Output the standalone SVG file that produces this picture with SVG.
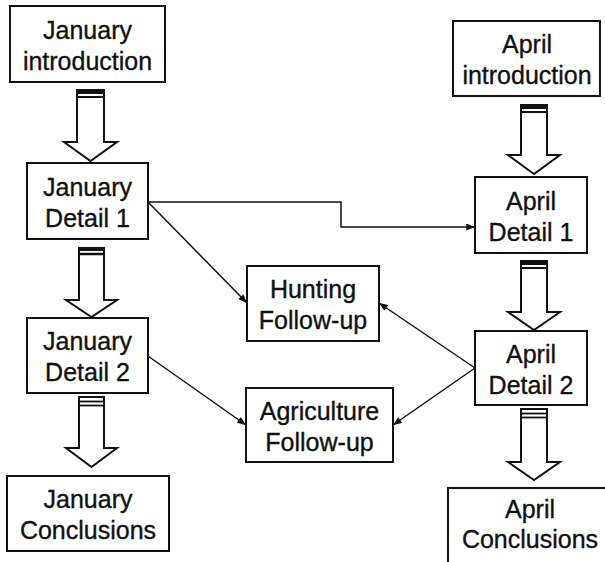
<svg xmlns="http://www.w3.org/2000/svg" width="605" height="562" viewBox="0 0 605 562">
<style>
.box{fill:#fff;stroke:#111;stroke-width:2}
.lbl{font-family:"Liberation Sans",Arial,sans-serif;font-size:25px;fill:#111;stroke:#111;stroke-width:0.35;text-anchor:middle}
.conn{fill:none;stroke:#111;stroke-width:1.5}
.barrow{fill:#fff;stroke:#111;stroke-width:2;stroke-linejoin:miter}
.cap{stroke:#111;fill:none}
</style>
<defs>
<marker id="ah" viewBox="0 0 10 8" refX="10" refY="4" markerWidth="10" markerHeight="7" markerUnits="userSpaceOnUse" orient="auto">
<path d="M0,0 L10,4 L0,8 Z" fill="#111"/>
</marker>
</defs>
<rect width="605" height="562" fill="#fff"/>

<g id="block-arrows">
<g id="ba1">
<polygon class="barrow" points="77,90 104,90 104,142 117,142 90.5,161 64,142 77,142"/>
<line class="cap" x1="77" y1="92" x2="104" y2="92" stroke-width="4"/>
<line class="cap" x1="77" y1="97" x2="104" y2="97" stroke-width="2"/>
</g>
<g id="ba2">
<polygon class="barrow" points="79,248 104,248 104,300 117,300 91.5,317 66,300 79,300"/>
<line class="cap" x1="79" y1="249.5" x2="104" y2="249.5" stroke-width="3"/>
<line class="cap" x1="79" y1="254" x2="104" y2="254" stroke-width="2.5"/>
</g>
<g id="ba3">
<polygon class="barrow" points="79,397 104,397 104,448 117,448 91.5,467 66,448 79,448"/>
<line class="cap" x1="79" y1="401.5" x2="104" y2="401.5" stroke-width="1.8"/>
<line class="cap" x1="79" y1="405.5" x2="104" y2="405.5" stroke-width="1.8"/>
</g>
<g id="ba4">
<polygon class="barrow" points="521,105 547,105 547,155 560,155 534,174 508,155 521,155"/>
<line class="cap" x1="521" y1="107" x2="547" y2="107" stroke-width="4"/>
<line class="cap" x1="521" y1="112" x2="547" y2="112" stroke-width="2"/>
</g>
<g id="ba5">
<polygon class="barrow" points="521,261 547,261 547,312 560,312 534,330 508,312 521,312"/>
<line class="cap" x1="521" y1="263" x2="547" y2="263" stroke-width="4"/>
<line class="cap" x1="521" y1="268" x2="547" y2="268" stroke-width="2"/>
</g>
<g id="ba6">
<polygon class="barrow" points="521,409 547,409 547,462 560,462 534,480 508,462 521,462"/>
<line class="cap" x1="521" y1="413.5" x2="547" y2="413.5" stroke-width="1.8"/>
<line class="cap" x1="521" y1="417.5" x2="547" y2="417.5" stroke-width="1.8"/>
</g>
</g>

<g id="connectors">
<path class="conn" d="M148,202 H341 V227 H475" marker-end="url(#ah)"/>
<path class="conn" d="M148,202 L247,303" marker-end="url(#ah)"/>
<path class="conn" d="M148,356 L246,425" marker-end="url(#ah)"/>
<path class="conn" d="M475,368 L379,303" marker-end="url(#ah)"/>
<path class="conn" d="M475,368 L393,425" marker-end="url(#ah)"/>
</g>

<g id="jan-intro">
<rect class="box" x="10" y="6" width="155" height="76"/>
<text class="lbl" x="87.5" y="39">January</text>
<text class="lbl" x="87.5" y="70">introduction</text>
</g>
<g id="jan-detail1">
<rect class="box" x="27" y="163" width="121" height="76"/>
<text class="lbl" x="87.5" y="196">January</text>
<text class="lbl" x="87.5" y="227">Detail 1</text>
</g>
<g id="jan-detail2">
<rect class="box" x="27" y="318" width="121" height="75"/>
<text class="lbl" x="87.5" y="350">January</text>
<text class="lbl" x="87.5" y="381">Detail 2</text>
</g>
<g id="jan-concl">
<rect class="box" x="7" y="476" width="162" height="75"/>
<text class="lbl" x="88" y="508">January</text>
<text class="lbl" x="88" y="539">Conclusions</text>
</g>
<g id="apr-intro">
<rect class="box" x="453" y="21" width="147" height="75"/>
<text class="lbl" x="527" y="53">April</text>
<text class="lbl" x="527" y="84">introduction</text>
</g>
<g id="apr-detail1">
<rect class="box" x="475" y="177" width="112" height="76"/>
<text class="lbl" x="531" y="210">April</text>
<text class="lbl" x="531" y="241">Detail 1</text>
</g>
<g id="apr-detail2">
<rect class="box" x="475" y="331" width="112" height="74"/>
<text class="lbl" x="531" y="363">April</text>
<text class="lbl" x="531" y="394">Detail 2</text>
</g>
<g id="apr-concl">
<rect class="box" x="448" y="488" width="170" height="90"/>
<text class="lbl" x="530" y="518">April</text>
<text class="lbl" x="530" y="548">Conclusions</text>
</g>
<g id="hunting">
<rect class="box" x="247" y="266" width="132" height="75"/>
<text class="lbl" x="313" y="298">Hunting</text>
<text class="lbl" x="313" y="329">Follow-up</text>
</g>
<g id="agriculture">
<rect class="box" x="246" y="388" width="147" height="74"/>
<text class="lbl" x="319.5" y="420">Agriculture</text>
<text class="lbl" x="319.5" y="451">Follow-up</text>
</g>
</svg>
